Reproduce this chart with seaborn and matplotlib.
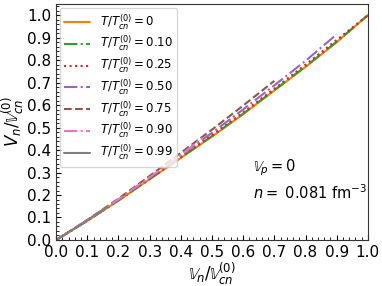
import numpy as np
import pandas as pd
import matplotlib
matplotlib.use("Agg")
import matplotlib.pyplot as plt
from matplotlib.ticker import MultipleLocator
import seaborn as sns

# ratios T / T_cn^(0) and curve data
temps = ["0", "0.10", "0.25", "0.50", "0.75", "0.90", "0.99"]

x_full = [0.0, 0.1, 0.2, 0.3, 0.4, 0.5, 0.6, 0.7, 0.8, 0.9, 1.0]
y_t000 = [0.0, 0.085, 0.175, 0.270, 0.365, 0.460, 0.560, 0.665, 0.770, 0.880, 1.0]
y_t010 = [0.0, 0.085, 0.176, 0.271, 0.367, 0.462, 0.562, 0.667, 0.772, 0.882, 1.0]
y_t025 = [0.0, 0.086, 0.178, 0.274, 0.371, 0.467, 0.568, 0.673, 0.780, 0.890, 1.0]

x_t050 = [0.0, 0.1, 0.2, 0.3, 0.4, 0.5, 0.6, 0.7, 0.8, 0.9]
y_t050 = [0.0, 0.087, 0.180, 0.278, 0.377, 0.477, 0.581, 0.688, 0.797, 0.915]

x_t075 = [0.0, 0.1, 0.2, 0.3, 0.4, 0.5, 0.6, 0.7]
y_t075 = [0.0, 0.089, 0.184, 0.285, 0.388, 0.491, 0.598, 0.708]

x_t090 = [0.0, 0.1, 0.2, 0.3, 0.4, 0.47]
y_t090 = [0.0, 0.088, 0.181, 0.279, 0.378, 0.455]

x_t099 = [0.0, 0.08, 0.165]
y_t099 = [0.0, 0.070, 0.148]

series = [
    (x_full, y_t000, "tab:orange", "-"),
    (x_full, y_t010, "tab:green", "-."),
    (x_full, y_t025, "tab:red", ":"),
    (x_t050, y_t050, "tab:purple", "-."),
    (x_t075, y_t075, "tab:brown", "--"),
    (x_t090, y_t090, "tab:pink", "-."),
    (x_t099, y_t099, "tab:gray", "-"),
]

sns.set_style("ticks")
plt.rcParams.update({
    "mathtext.fontset": "dejavusans",
    "text.color": "black",
    "axes.labelcolor": "black",
    "xtick.color": "black",
    "ytick.color": "black",
    "axes.edgecolor": "#333333",
})

fig = plt.figure(figsize=(3.82, 2.86), dpi=100)
ax = fig.add_axes([0.147, 0.161, 0.816, 0.825])

for t, (xs, ys, col, ls) in zip(temps, series):
    df = pd.DataFrame({"x": xs, "y": ys})
    sns.lineplot(data=df, x="x", y="y", ax=ax, color=col, linestyle=ls,
                 linewidth=1.5, label=r"$T/T_{cn}^{(0)} = $" + t)

ax.set_xlim(0, 1)
ax.set_ylim(0, 1.05)
ax.xaxis.set_major_locator(MultipleLocator(0.1))
ax.yaxis.set_major_locator(MultipleLocator(0.1))
ax.xaxis.set_minor_locator(MultipleLocator(0.02))
ax.yaxis.set_minor_locator(MultipleLocator(0.02))
ax.tick_params(which="both", direction="in", labelsize=11)
ax.tick_params(which="minor", length=2)
ax.tick_params(which="major", length=3.5)

ax.set_xlabel(r"$\mathbb{V}_n/\mathbb{V}_{cn}^{(0)}$", fontsize=12, labelpad=1)
ax.set_ylabel(r"$V_n/\mathbb{V}_{cn}^{(0)}$", fontsize=12, labelpad=1)

ax.text(0.63, 0.29, r"$\mathbb{V}_p = 0$", transform=ax.transAxes, fontsize=10.5)
ax.text(0.63, 0.175, r"$n = $ 0.081 fm$^{-3}$", transform=ax.transAxes, fontsize=10.5)

ax.legend(loc="upper left", fontsize=8.5, handlelength=2.2, labelspacing=0.2,
          borderaxespad=0.3)

fig.savefig("out.png", dpi=100)
